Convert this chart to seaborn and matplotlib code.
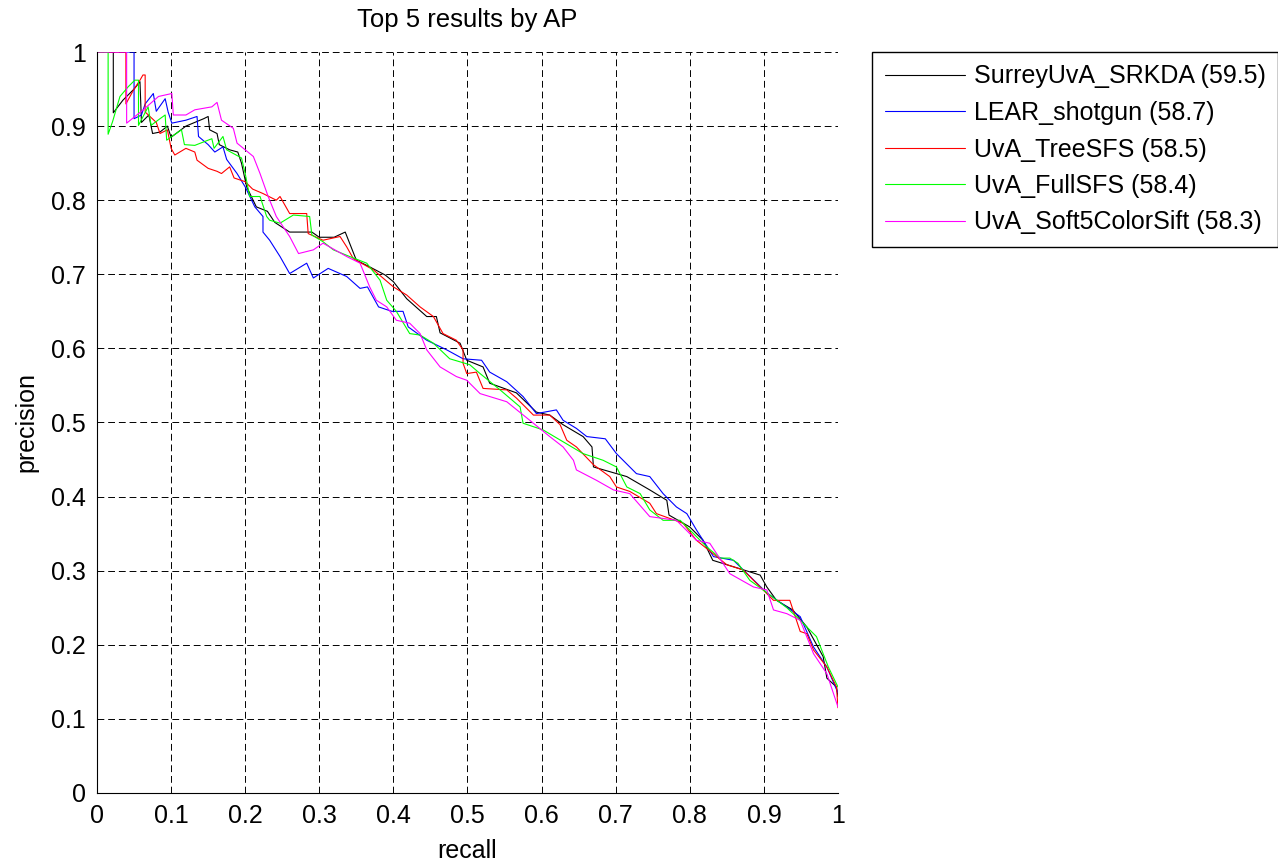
import matplotlib
matplotlib.use("Agg")
import matplotlib.pyplot as plt
import seaborn as sns
from pandas import DataFrame, concat

# precision / recall points
surrey_recall = [0, 0.022, 0.022, 0.035, 0.050, 0.058, 0.060, 0.070, 0.075, 0.085, 0.095, 0.100,
                 0.120, 0.144, 0.150, 0.152, 0.162, 0.165, 0.179, 0.190, 0.195, 0.202, 0.215,
                 0.230, 0.240, 0.260, 0.290, 0.300, 0.320, 0.335, 0.350, 0.368, 0.389, 0.400,
                 0.418, 0.445, 0.458, 0.463, 0.490, 0.499, 0.521, 0.530, 0.566, 0.593, 0.611,
                 0.629, 0.656, 0.668, 0.670, 0.715, 0.746, 0.769, 0.772, 0.800, 0.818, 0.831,
                 0.860, 0.895, 0.904, 0.917, 0.939, 0.958, 0.980, 0.985, 0.998, 1.0]
surrey_prec = [1, 1, 0.918, 0.935, 0.950, 0.960, 0.905, 0.915, 0.890, 0.892, 0.900, 0.885,
               0.900, 0.910, 0.913, 0.895, 0.890, 0.875, 0.868, 0.865, 0.850, 0.818, 0.791,
               0.785, 0.770, 0.757, 0.757, 0.750, 0.750, 0.757, 0.719, 0.710, 0.699, 0.690,
               0.667, 0.643, 0.643, 0.621, 0.607, 0.584, 0.575, 0.553, 0.540, 0.514, 0.510,
               0.497, 0.481, 0.467, 0.440, 0.427, 0.409, 0.395, 0.375, 0.359, 0.341, 0.314,
               0.305, 0.294, 0.278, 0.260, 0.247, 0.224, 0.184, 0.155, 0.143, 0.130]

lear_recall = [0, 0.050, 0.050, 0.060, 0.065, 0.076, 0.080, 0.092, 0.096, 0.101, 0.120, 0.135,
               0.137, 0.150, 0.159, 0.170, 0.175, 0.189, 0.200, 0.213, 0.224, 0.224, 0.233,
               0.247, 0.260, 0.283, 0.292, 0.312, 0.337, 0.355, 0.365, 0.380, 0.398, 0.413,
               0.420, 0.445, 0.472, 0.494, 0.519, 0.530, 0.553, 0.575, 0.593, 0.620, 0.629,
               0.647, 0.661, 0.686, 0.701, 0.728, 0.746, 0.764, 0.782, 0.796, 0.809, 0.832,
               0.859, 0.904, 0.949, 0.967, 0.985, 1.0]
lear_prec = [1, 1, 0.910, 0.915, 0.930, 0.944, 0.920, 0.937, 0.919, 0.904, 0.908, 0.913,
             0.886, 0.875, 0.865, 0.872, 0.855, 0.836, 0.818, 0.791, 0.778, 0.757, 0.746,
             0.724, 0.701, 0.715, 0.695, 0.708, 0.697, 0.681, 0.683, 0.656, 0.650, 0.650,
             0.629, 0.611, 0.598, 0.586, 0.584, 0.568, 0.555, 0.535, 0.512, 0.517, 0.503,
             0.492, 0.481, 0.478, 0.458, 0.431, 0.427, 0.404, 0.386, 0.377, 0.355, 0.319,
             0.314, 0.270, 0.238, 0.197, 0.170, 0.135]

tree_recall = [0, 0.039, 0.039, 0.050, 0.058, 0.062, 0.065, 0.065, 0.080, 0.085, 0.095, 0.100,
               0.105, 0.120, 0.132, 0.135, 0.150, 0.162, 0.168, 0.179, 0.185, 0.200, 0.210,
               0.224, 0.242, 0.247, 0.260, 0.283, 0.285, 0.305, 0.328, 0.337, 0.346, 0.373,
               0.400, 0.418, 0.436, 0.454, 0.467, 0.485, 0.494, 0.494, 0.499, 0.512, 0.521,
               0.553, 0.566, 0.589, 0.611, 0.625, 0.634, 0.647, 0.670, 0.692, 0.701, 0.719,
               0.746, 0.755, 0.791, 0.809, 0.850, 0.872, 0.913, 0.935, 0.949, 0.958, 0.967,
               0.985, 0.998, 1.0]
tree_prec = [1, 1, 0.930, 0.950, 0.962, 0.969, 0.969, 0.919, 0.905, 0.890, 0.895, 0.870,
             0.861, 0.870, 0.865, 0.854, 0.843, 0.839, 0.836, 0.845, 0.830, 0.825, 0.815,
             0.809, 0.800, 0.805, 0.782, 0.782, 0.755, 0.746, 0.751, 0.737, 0.721, 0.706,
             0.683, 0.672, 0.656, 0.643, 0.620, 0.611, 0.598, 0.580, 0.566, 0.568, 0.546,
             0.544, 0.533, 0.510, 0.510, 0.497, 0.476, 0.467, 0.443, 0.427, 0.413, 0.407,
             0.391, 0.377, 0.364, 0.341, 0.308, 0.301, 0.260, 0.260, 0.218, 0.215, 0.193,
             0.170, 0.143, 0.115]

full_recall = [0, 0.015, 0.015, 0.021, 0.031, 0.042, 0.051, 0.056, 0.056, 0.069, 0.073, 0.085,
               0.092, 0.094, 0.114, 0.118, 0.132, 0.155, 0.158, 0.170, 0.175, 0.195, 0.200,
               0.206, 0.220, 0.229, 0.233, 0.247, 0.265, 0.287, 0.290, 0.305, 0.319, 0.341,
               0.364, 0.382, 0.391, 0.404, 0.422, 0.436, 0.454, 0.476, 0.503, 0.517, 0.544,
               0.571, 0.575, 0.602, 0.629, 0.656, 0.683, 0.701, 0.715, 0.733, 0.746, 0.764,
               0.787, 0.800, 0.823, 0.841, 0.854, 0.865, 0.881, 0.899, 0.931, 0.949, 0.971,
               0.987, 1.0]
full_prec = [1, 1, 0.889, 0.906, 0.940, 0.953, 0.962, 0.962, 0.901, 0.926, 0.901, 0.910,
             0.915, 0.881, 0.895, 0.875, 0.874, 0.883, 0.870, 0.886, 0.868, 0.857, 0.836,
             0.805, 0.805, 0.778, 0.773, 0.769, 0.780, 0.778, 0.753, 0.744, 0.733, 0.724,
             0.715, 0.692, 0.665, 0.650, 0.620, 0.618, 0.607, 0.586, 0.578, 0.566, 0.544,
             0.521, 0.499, 0.490, 0.474, 0.458, 0.449, 0.440, 0.413, 0.404, 0.382, 0.368,
             0.368, 0.355, 0.332, 0.317, 0.317, 0.310, 0.287, 0.274, 0.250, 0.233, 0.211,
             0.170, 0.143]

soft_recall = [0, 0.040, 0.040, 0.060, 0.083, 0.101, 0.103, 0.120, 0.132, 0.155, 0.162, 0.168,
               0.184, 0.189, 0.211, 0.220, 0.231, 0.242, 0.260, 0.272, 0.292, 0.305, 0.337,
               0.355, 0.368, 0.377, 0.391, 0.404, 0.422, 0.436, 0.445, 0.463, 0.485, 0.499,
               0.517, 0.553, 0.584, 0.611, 0.629, 0.643, 0.647, 0.674, 0.697, 0.719, 0.746,
               0.782, 0.809, 0.827, 0.854, 0.886, 0.904, 0.913, 0.931, 0.949, 0.967, 0.985, 1.0]
soft_prec = [1, 1, 0.904, 0.920, 0.940, 0.944, 0.915, 0.915, 0.922, 0.926, 0.932, 0.908,
             0.897, 0.877, 0.859, 0.836, 0.805, 0.778, 0.751, 0.728, 0.733, 0.742, 0.724,
             0.715, 0.683, 0.665, 0.656, 0.638, 0.634, 0.620, 0.598, 0.575, 0.562, 0.557,
             0.539, 0.528, 0.503, 0.481, 0.467, 0.449, 0.436, 0.422, 0.409, 0.404, 0.373,
             0.368, 0.341, 0.337, 0.296, 0.278, 0.274, 0.247, 0.242, 0.233, 0.188, 0.161, 0.116]

labels = ["SurreyUvA_SRKDA (59.5)", "LEAR_shotgun (58.7)", "UvA_TreeSFS (58.5)",
          "UvA_FullSFS (58.4)", "UvA_Soft5ColorSift (58.3)"]
colors = ["#000000", "#0000ff", "#ff0000", "#00ff00", "#ff00ff"]
curves = [(surrey_recall, surrey_prec), (lear_recall, lear_prec), (tree_recall, tree_prec),
          (full_recall, full_prec), (soft_recall, soft_prec)]

df = concat([DataFrame({"recall": r, "precision": p, "method": lab})
             for (r, p), lab in zip(curves, labels)], ignore_index=True)

sns.set_style("white")
plt.rcParams["font.family"] = ["Liberation Sans", "DejaVu Sans"]
plt.rcParams["text.color"] = "black"
plt.rcParams["axes.labelcolor"] = "black"
fs = 18

fig = plt.figure(figsize=(12.78, 8.64), dpi=100)
ax = fig.add_axes([0.0759, 0.0822, 0.5798, 0.8576])

sns.lineplot(data=df, x="recall", y="precision", hue="method", hue_order=labels,
             palette=colors, sort=False, estimator=None, linewidth=0.8, ax=ax)

handles, labs = ax.get_legend_handles_labels()
ax.get_legend().remove()
fig.legend(handles, labs, loc="upper left", bbox_to_anchor=(872 / 1278, 1 - 52 / 864),
           fontsize=fs, frameon=True, fancybox=False, framealpha=1, edgecolor="black",
           handlelength=3.2, handletextpad=0.36, labelspacing=0.5, borderpad=0.5,
           borderaxespad=0)

ticks = [round(i * 0.1, 1) for i in range(11)]
tick_labels = ["0"] + [str(t) for t in ticks[1:-1]] + ["1"]
ax.set_xlim(0, 1)
ax.set_ylim(0, 1)
ax.set_xticks(ticks, tick_labels)
ax.set_yticks(ticks, tick_labels)
ax.tick_params(direction="in", length=5, width=0.8, labelsize=fs, colors="black", pad=8)
ax.grid(True, color="black", linestyle=(0, (7, 4)), linewidth=0.7)
for side in ["top", "right"]:
    ax.spines[side].set_visible(False)
for side in ["left", "bottom"]:
    ax.spines[side].set_color("black")
    ax.spines[side].set_linewidth(0.8)

ax.set_title("Top 5 results by AP", fontsize=18.5, pad=18)
ax.set_xlabel("recall", fontsize=fs, labelpad=8)
ax.set_ylabel("precision", fontsize=fs, labelpad=9)

fig.savefig("out.png", dpi=100, facecolor="white")
